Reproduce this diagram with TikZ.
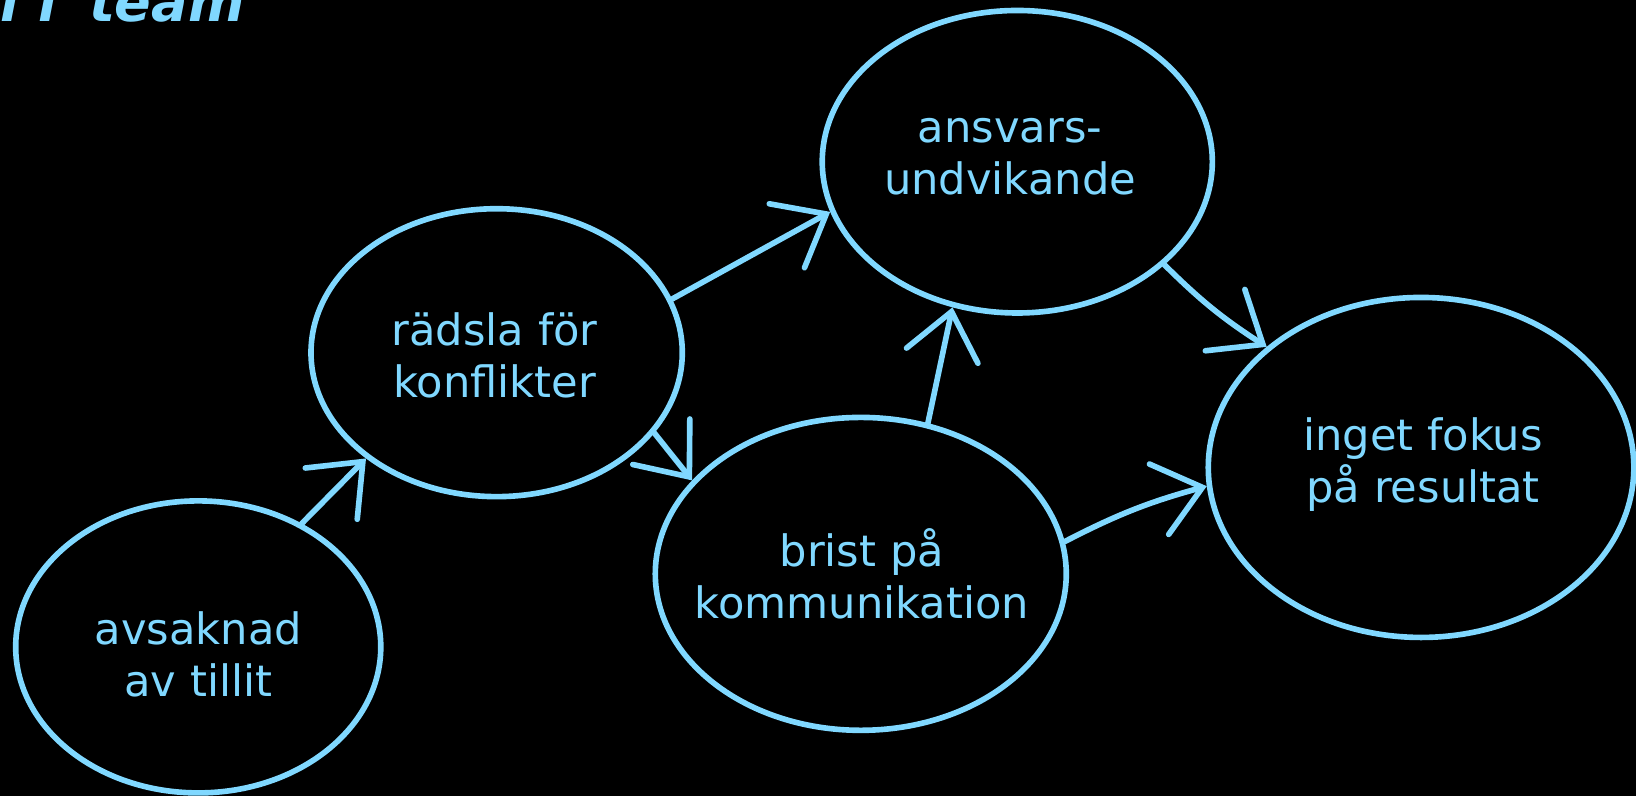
\documentclass[tikz,border=0pt]{standalone}
\usepackage{fontspec}
\setmainfont{DejaVu Sans}
\usetikzlibrary{shapes.geometric,arrows.meta}
\definecolor{sky}{RGB}{128,216,255}
\begin{document}
\begin{tikzpicture}[x=0.010434cm,y=-0.010434cm,
  blob/.style={ellipse,draw=sky,line width=1.6pt,inner sep=0pt},
  txt/.style={text=sky,align=center,inner sep=0pt,font=\fontsize{12.3}{14.8}\selectfont},
  arr/.style={draw=sky,line width=1.6pt,line cap=round,line join=round,
    -{Straight Barb[length=4.5mm,width=7.3mm,line cap=round]}}]
\fill[black] (0,0) rectangle (1568,763);
\useasboundingbox (0,0) rectangle (1568,763);
\node[blob,minimum width=3.652cm,minimum height=2.921cm] (n1) at (190,620) {};
\node[blob,minimum width=3.714cm,minimum height=2.880cm] (n2) at (476,338) {};
\node[blob,minimum width=3.902cm,minimum height=3.026cm] (n3) at (975,155) {};
\node[blob,minimum width=4.111cm,minimum height=3.130cm] (n4) at (825,550) {};
\node[blob,minimum width=4.257cm,minimum height=3.401cm] (n5) at (1362,448) {};
\node[txt] (t1) at (190,627) {avsaknad\\av tillit};
\node[txt] (t2) at (474,341) {rädsla för\\konflikter};
\node[txt] (t3) at (968,150) {ansvars-\\undvikande};
\node[txt] (t4) at (826,550) {brist på\\kommunikation};
\node[txt] (t5) at (1364,445) {inget fokus\\på resultat};
\draw[arr] (n1.50) -- (n2.219);
\draw[arr] (n2.17) -- (n3.195);
\draw[arr] (n2.-27) -- (n4.151);
\draw[arr] (n4.66) -- (n3.246);
\draw[arr] (n4.9) to[bend left=6] (n5.185);
\draw[arr] (n3.-35) to[bend right=6] (n5.142);
\node[anchor=base east,text=sky,inner sep=0pt,font=\fontsize{15.4}{18}\bfseries\itshape\selectfont] (title) at (235,21) {l\hspace{0.35em}l\hspace{0.6em}team};
\end{tikzpicture}
\end{document}
